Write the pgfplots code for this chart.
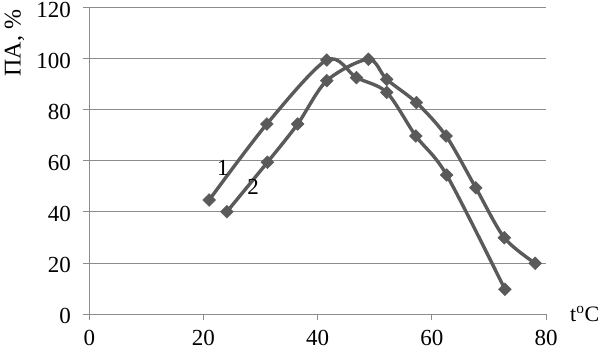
\documentclass[border=0pt]{standalone}
\usepackage{fontspec}
\setmainfont{Liberation Serif}
\usepackage{pgfplots}
\pgfplotsset{compat=1.18}
\definecolor{ser}{HTML}{5A5A5A}
\definecolor{grd}{HTML}{8C8C8C}
\begin{document}
\begin{tikzpicture}
\begin{axis}[
  scale only axis, width=456.7pt, height=306pt,
  xmin=0, xmax=80, ymin=0, ymax=120,
  xtick={0,20,...,80}, ytick={0,20,...,120},
  axis x line*=bottom, axis y line*=left,
  axis line style={grd, line width=1pt, -},
  ymajorgrids, grid style={grd, line width=1pt},
  tick style={grd, line width=1pt},
  tick align=outside, major tick length=6pt,
  /pgf/number format/assume math mode=true,
  ticklabel style={font=\fontsize{23}{25}\selectfont},
  xticklabel style={yshift=-9pt, inner sep=1pt},
  yticklabel style={xshift=-9pt, yshift=-2pt},
  ylabel={ПА, \%},
  ylabel style={font=\fontsize{24}{26}\selectfont, at={(axis description cs:-0.164,0.885)}, anchor=center, inner sep=0pt},
  xlabel={t\textsuperscript{o}C},
  xlabel style={font=\fontsize{22}{24}\selectfont, at={(axis description cs:1.0,0)}, anchor=west, xshift=24pt, inner sep=0pt},
  clip=false,
]
\coordinate (sw) at (rel axis cs:0,0);
\coordinate (ne) at (rel axis cs:1,1);
\addplot[ser, line width=3.4pt, smooth, tension=0.5, mark=square*, mark size=4.5pt, mark options={solid, fill=ser, rotate=45, line width=0.5pt}]
coordinates {(21.0,44.7)(31.1,74.5)(41.6,99.6)(46.8,92.7)(52.1,86.9)(57.2,69.8)(62.6,54.5)(72.8,9.7)};
\addplot[ser, line width=3.4pt, smooth, tension=0.5, mark=square*, mark size=4.5pt, mark options={solid, fill=ser, rotate=45, line width=0.5pt}]
coordinates {(24.1,40.1)(31.2,59.5)(36.5,74.5)(41.6,91.5)(48.9,99.9)(52.1,92)(57.3,82.9)(62.5,69.8)(67.7,49.5)(72.7,29.9)(78.1,19.9)};
\node[font=\fontsize{23}{25}\selectfont] at (axis cs:23.4,57.3) {1};
\node[font=\fontsize{23}{25}\selectfont] at (axis cs:28.7,49.8) {2};
\end{axis}
\pgfresetboundingbox
\path ([xshift=-89.3pt,yshift=-38pt]sw) rectangle ([xshift=56pt,yshift=8pt]ne);
\end{tikzpicture}
\end{document}
